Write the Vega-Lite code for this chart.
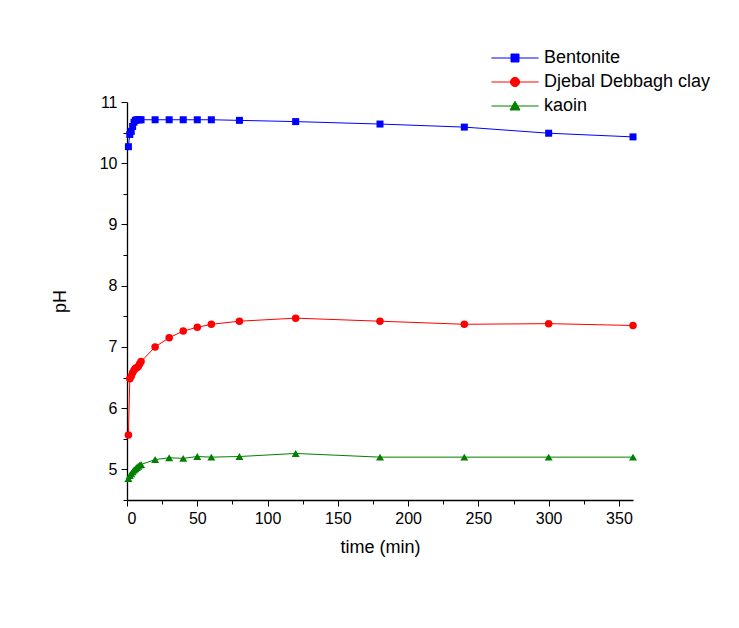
{
  "$schema": "https://vega.github.io/schema/vega-lite/v6.json",
  "width": 506,
  "height": 398,
  "autosize": {"type": "none"},
  "padding": {"left": 127, "top": 102, "right": 106, "bottom": 128},
  "background": "white",
  "config": {
    "view": {"stroke": null},
    "font": "Liberation Sans",
    "axis": {
      "domainColor": "black", "domainWidth": 1.3,
      "tickColor": "black", "tickWidth": 1,
      "labelColor": "black", "labelFont": "Liberation Sans", "labelFontSize": 16,
      "titleColor": "black", "titleFont": "Liberation Sans", "titleFontSize": 18, "titleFontWeight": "normal",
      "grid": false, "labelPadding": 4
    }
  },
  "data": {"values": [
    {"series": "Bentonite", "time": 1, "pH": 10.27},
    {"series": "Bentonite", "time": 2, "pH": 10.47},
    {"series": "Bentonite", "time": 3, "pH": 10.52},
    {"series": "Bentonite", "time": 4, "pH": 10.6},
    {"series": "Bentonite", "time": 5, "pH": 10.67},
    {"series": "Bentonite", "time": 6, "pH": 10.7},
    {"series": "Bentonite", "time": 7, "pH": 10.71},
    {"series": "Bentonite", "time": 8, "pH": 10.71},
    {"series": "Bentonite", "time": 9, "pH": 10.71},
    {"series": "Bentonite", "time": 10, "pH": 10.71},
    {"series": "Bentonite", "time": 20, "pH": 10.71},
    {"series": "Bentonite", "time": 30, "pH": 10.71},
    {"series": "Bentonite", "time": 40, "pH": 10.71},
    {"series": "Bentonite", "time": 50, "pH": 10.71},
    {"series": "Bentonite", "time": 60, "pH": 10.71},
    {"series": "Bentonite", "time": 80, "pH": 10.7},
    {"series": "Bentonite", "time": 120, "pH": 10.68},
    {"series": "Bentonite", "time": 180, "pH": 10.64},
    {"series": "Bentonite", "time": 240, "pH": 10.59},
    {"series": "Bentonite", "time": 300, "pH": 10.49},
    {"series": "Bentonite", "time": 360, "pH": 10.43},
    {"series": "Djebal Debbagh clay", "time": 1, "pH": 5.56},
    {"series": "Djebal Debbagh clay", "time": 2, "pH": 6.48},
    {"series": "Djebal Debbagh clay", "time": 3, "pH": 6.52},
    {"series": "Djebal Debbagh clay", "time": 4, "pH": 6.58},
    {"series": "Djebal Debbagh clay", "time": 5, "pH": 6.62},
    {"series": "Djebal Debbagh clay", "time": 6, "pH": 6.65},
    {"series": "Djebal Debbagh clay", "time": 7, "pH": 6.66},
    {"series": "Djebal Debbagh clay", "time": 8, "pH": 6.68},
    {"series": "Djebal Debbagh clay", "time": 9, "pH": 6.72},
    {"series": "Djebal Debbagh clay", "time": 10, "pH": 6.76},
    {"series": "Djebal Debbagh clay", "time": 20, "pH": 7.0},
    {"series": "Djebal Debbagh clay", "time": 30, "pH": 7.15},
    {"series": "Djebal Debbagh clay", "time": 40, "pH": 7.26},
    {"series": "Djebal Debbagh clay", "time": 50, "pH": 7.32},
    {"series": "Djebal Debbagh clay", "time": 60, "pH": 7.37},
    {"series": "Djebal Debbagh clay", "time": 80, "pH": 7.42},
    {"series": "Djebal Debbagh clay", "time": 120, "pH": 7.47},
    {"series": "Djebal Debbagh clay", "time": 180, "pH": 7.42},
    {"series": "Djebal Debbagh clay", "time": 240, "pH": 7.37},
    {"series": "Djebal Debbagh clay", "time": 300, "pH": 7.38},
    {"series": "Djebal Debbagh clay", "time": 360, "pH": 7.35},
    {"series": "kaoin", "time": 1, "pH": 4.85},
    {"series": "kaoin", "time": 2, "pH": 4.9},
    {"series": "kaoin", "time": 3, "pH": 4.93},
    {"series": "kaoin", "time": 4, "pH": 4.96},
    {"series": "kaoin", "time": 5, "pH": 4.99},
    {"series": "kaoin", "time": 6, "pH": 5.01},
    {"series": "kaoin", "time": 7, "pH": 5.03},
    {"series": "kaoin", "time": 8, "pH": 5.05},
    {"series": "kaoin", "time": 9, "pH": 5.07},
    {"series": "kaoin", "time": 10, "pH": 5.08},
    {"series": "kaoin", "time": 20, "pH": 5.16},
    {"series": "kaoin", "time": 30, "pH": 5.19},
    {"series": "kaoin", "time": 40, "pH": 5.18},
    {"series": "kaoin", "time": 50, "pH": 5.21},
    {"series": "kaoin", "time": 60, "pH": 5.2},
    {"series": "kaoin", "time": 80, "pH": 5.21},
    {"series": "kaoin", "time": 120, "pH": 5.26},
    {"series": "kaoin", "time": 180, "pH": 5.2},
    {"series": "kaoin", "time": 240, "pH": 5.2},
    {"series": "kaoin", "time": 300, "pH": 5.2},
    {"series": "kaoin", "time": 360, "pH": 5.2}
  ]},
  "encoding": {
    "x": {
      "field": "time", "type": "quantitative", "title": "time (min)",
      "scale": {"domain": [0, 360], "nice": false, "zero": false},
      "axis": {
        "values": [0, 25, 50, 75, 100, 125, 150, 175, 200, 225, 250, 275, 300, 325, 350],
        "labelExpr": "datum.value % 50 === 0 ? format(datum.value, 'd') : ''",
        "tickSize": {"condition": {"test": "datum.value % 50 === 0", "value": 6}, "value": 4},
        "titlePadding": 12
      }
    },
    "y": {
      "field": "pH", "type": "quantitative", "title": "pH",
      "scale": {"domain": [4.5, 11], "nice": false, "zero": false},
      "axis": {
        "values": [4.5, 5, 5.5, 6, 6.5, 7, 7.5, 8, 8.5, 9, 9.5, 10, 10.5, 11],
        "labelExpr": "datum.value % 1 === 0 ? format(datum.value, 'd') : ''",
        "tickSize": {"condition": {"test": "datum.value % 1 === 0", "value": 6}, "value": 4},
        "titlePadding": 30
      }
    }
  },
  "layer": [
    {
      "mark": {"type": "line", "strokeWidth": 1},
      "encoding": {
        "color": {"field": "series", "type": "nominal", "legend": null,
          "scale": {"domain": ["Bentonite", "Djebal Debbagh clay", "kaoin"], "range": ["#0000ff", "#ff0000", "#008000"]}}
      }
    },
    {
      "mark": {"type": "point", "filled": true, "opacity": 1},
      "encoding": {
        "color": {"field": "series", "type": "nominal", "legend": null},
        "shape": {"field": "series", "type": "nominal", "legend": null,
          "scale": {"domain": ["Bentonite", "Djebal Debbagh clay", "kaoin"], "range": ["square", "circle", "triangle-up"]}},
        "size": {"field": "series", "type": "nominal", "legend": null,
          "scale": {"domain": ["Bentonite", "Djebal Debbagh clay", "kaoin"], "range": [49, 64, 81]}}
      }
    },
    {
      "transform": [{"filter": "false"}],
      "mark": {"type": "point", "filled": true, "opacity": 1, "strokeWidth": 1, "size": 64},
      "encoding": {
        "fill": {"field": "series", "type": "nominal",
          "scale": {"domain": ["Bentonite", "Djebal Debbagh clay", "kaoin"], "range": ["#0000ff", "#ff0000", "#008000"]},
          "legend": {"orient": "none", "legendX": 379, "legendY": -53, "title": null,
            "labelFontSize": 18, "labelFont": "Liberation Sans", "labelColor": "black", "labelLimit": 400,
            "labelOffset": 20, "rowPadding": 6, "symbolSize": 64, "symbolStrokeWidth": 1}},
        "stroke": {"field": "series", "type": "nominal",
          "scale": {"domain": ["Bentonite", "Djebal Debbagh clay", "kaoin"], "range": ["#0000ff", "#ff0000", "#008000"]},
          "legend": {"orient": "none", "legendX": 379, "legendY": -53, "title": null,
            "labelFontSize": 18, "labelFont": "Liberation Sans", "labelColor": "black", "labelLimit": 400,
            "labelOffset": 20, "rowPadding": 6, "symbolSize": 64, "symbolStrokeWidth": 1}},
        "shape": {"field": "series", "type": "nominal",
          "scale": {"domain": ["Bentonite", "Djebal Debbagh clay", "kaoin"],
            "range": ["M-5.9,0H5.9M-1,-1H1V1H-1Z", "M-5.9,0H5.9M-1.15,0A1.15,1.15,0,1,0,1.15,0A1.15,1.15,0,1,0,-1.15,0Z", "M-5.9,0H5.9M0,-1.2L1.25,1L-1.25,1Z"]},
          "legend": {"orient": "none", "legendX": 379, "legendY": -53, "title": null,
            "labelFontSize": 18, "labelFont": "Liberation Sans", "labelColor": "black", "labelLimit": 400,
            "labelOffset": 20, "rowPadding": 6, "symbolSize": 64, "symbolStrokeWidth": 1}}
      }
    }
  ],
  "resolve": {"scale": {"shape": "independent", "fill": "independent", "stroke": "independent", "size": "independent"}}
}
